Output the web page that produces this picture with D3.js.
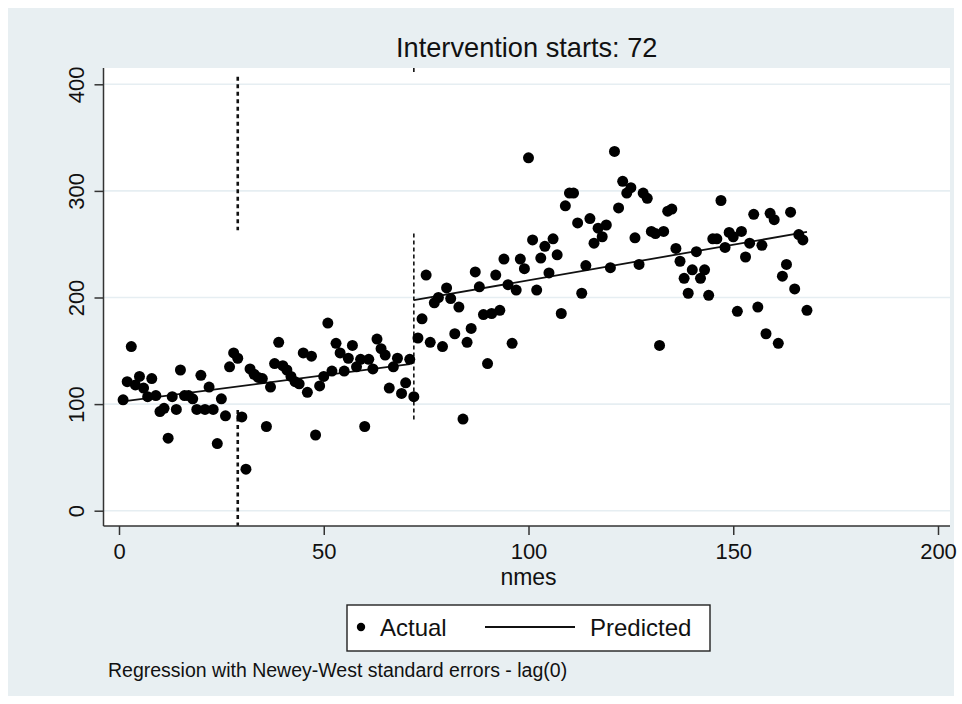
<!DOCTYPE html>
<html>
<head>
<meta charset="utf-8">
<script src="https://cdn.jsdelivr.net/npm/d3@7"></script>
<style>
  body { margin: 0; background: #ffffff; }
  text { font-family: "Liberation Sans", Arial, Helvetica, sans-serif; fill: #111; }
</style>
</head>
<body>
<svg id="chart" width="962" height="704"></svg>
<script>
// Monthly observed counts, nmes = 1 .. 168
const actual = [
  104,121,154,118,126,115,107,124,108,93,
  96,68,107,95,132,108,108,105,95,127,
  95,116,95,63,105,89,135,148,143,88,
  39,133,128,125,124,79,116,138,158,136,
  132,126,121,119,148,111,145,71,117,126,
  176,131,157,148,131,143,155,135,142,79,
  142,133,161,152,146,115,135,143,110,120,
  142,107,162,180,221,158,195,200,154,209,
  199,166,191,86,158,171,224,210,184,138,
  185,221,188,236,212,157,207,236,227,331,
  254,207,237,248,223,255,240,185,286,298,
  298,270,204,230,274,251,265,257,268,228,
  337,284,309,298,303,256,231,298,293,262,
  260,155,262,281,283,246,234,218,204,226,
  243,218,226,202,255,255,291,247,261,257,
  187,262,238,251,278,191,249,166,279,273,
  157,220,231,280,208,259,254,188
];
const nmes = d3.range(1, actual.length + 1);

// Fitted segments before and after the intervention (endpoints)
const predPreNmes  = [1, 71];
const predPreVals  = [102.5, 137.5];
const predPostNmes = [72, 168];
const predPostVals = [197.5, 261.5];

// Vertical reference lines (nmes position, visible [from, to] value spans)
const refLineX    = [29, 72];
const refLineSpans = [
  [[407, 263], [94.5, -15]],
  [[416, 411.5], [260, 85]]
];

const xTicks = [0, 50, 100, 150, 200];
const yTicks = [0, 100, 200, 300, 400];
const titleText = "Intervention starts: 72";
const xTitle = "nmes";
const legendLabels = ["Actual", "Predicted"];
const noteText = "Regression with Newey-West standard errors - lag(0)";

const svg = d3.select("#chart");
const W = 962, H = 704;
const plot = { left: 103.5, right: 950, top: 68, bottom: 526 };

const x = d3.scaleLinear().domain([0, 200]).range([119, 938]);
const y = d3.scaleLinear().domain([0, 400]).range([510.7, 84.3]);

// outer background
svg.append("rect").attr("x", 0).attr("y", 0).attr("width", W).attr("height", H).attr("fill", "#ffffff");
svg.append("rect").attr("x", 8).attr("y", 8).attr("width", W - 16).attr("height", H - 16).attr("fill", "#e8eff2");

// plot region
svg.append("rect")
  .attr("x", plot.left).attr("y", plot.top)
  .attr("width", plot.right - plot.left).attr("height", plot.bottom - plot.top)
  .attr("fill", "#ffffff");

// horizontal gridlines
svg.append("g").selectAll("line").data(yTicks).join("line")
  .attr("x1", plot.left).attr("x2", plot.right)
  .attr("y1", d => y(d)).attr("y2", d => y(d))
  .attr("stroke", "#e6eef2").attr("stroke-width", 1.6);

// reference lines
refLineX.forEach((xv, i) => {
  refLineSpans[i].forEach(span => {
    svg.append("line")
      .attr("x1", x(xv)).attr("x2", x(xv))
      .attr("y1", Math.max(plot.top, y(span[0])))
      .attr("y2", Math.min(plot.bottom, y(span[1])))
      .attr("stroke", "#111")
      .attr("stroke-width", i === 0 ? 2.6 : 1.6)
      .attr("stroke-dasharray", i === 0 ? "4,3.5" : "4,3");
  });
});

// fitted lines
const line = d3.line().x(d => x(d[0])).y(d => y(d[1]));
[[predPreNmes, predPreVals], [predPostNmes, predPostVals]].forEach(([n, v]) => {
  svg.append("path")
    .datum(n.map((d, i) => [d, v[i]]))
    .attr("d", line)
    .attr("fill", "none").attr("stroke", "#111").attr("stroke-width", 1.8);
});

// observed points
svg.append("g").selectAll("circle").data(nmes).join("circle")
  .attr("cx", d => x(d))
  .attr("cy", (d, i) => y(actual[i]))
  .attr("r", 5.5)
  .attr("fill", "#000");

// axes
const xAxis = d3.axisBottom(x).tickValues(xTicks).tickSize(9).tickPadding(8).tickFormat(d3.format("d"));
const gx = svg.append("g").attr("transform", `translate(0,${plot.bottom})`).call(xAxis);
gx.select(".domain").attr("d", `M${plot.left},0H${plot.right}`).attr("stroke", "#333").attr("stroke-width", 1.5);
gx.selectAll(".tick line").attr("stroke", "#333").attr("stroke-width", 1.5);
gx.selectAll(".tick text").attr("font-size", 22).attr("fill", "#111")
  .attr("font-family", "'Liberation Sans', Arial, sans-serif");

const yAxis = d3.axisLeft(y).tickValues(yTicks).tickSize(9).tickFormat(d3.format("d"));
const gy = svg.append("g").attr("transform", `translate(${plot.left},0)`).call(yAxis);
gy.select(".domain").attr("d", `M0,${plot.top}V${plot.bottom}`).attr("stroke", "#333").attr("stroke-width", 1.5);
gy.selectAll(".tick line").attr("stroke", "#333").attr("stroke-width", 1.5);
gy.selectAll(".tick text")
  .attr("font-size", 22).attr("fill", "#111")
  .attr("font-family", "'Liberation Sans', Arial, sans-serif")
  .attr("text-anchor", "middle")
  .attr("dy", 0).attr("x", 0).attr("y", 0)
  .attr("transform", "translate(-20,0) rotate(-90)");

// title
svg.append("text").attr("x", (plot.left + plot.right) / 2).attr("y", 57)
  .attr("text-anchor", "middle").attr("font-size", 27.2).text(titleText);

// x title
svg.append("text").attr("x", x(100)).attr("y", 585)
  .attr("text-anchor", "middle").attr("font-size", 23).text(xTitle);

// legend
const lg = svg.append("g");
lg.append("rect").attr("x", 347).attr("y", 605).attr("width", 363).attr("height", 46)
  .attr("fill", "#fff").attr("stroke", "#222").attr("stroke-width", 1.4);
lg.append("circle").attr("cx", 361).attr("cy", 627).attr("r", 4.2).attr("fill", "#000");
lg.append("text").attr("x", 380).attr("y", 636).attr("font-size", 24).text(legendLabels[0]);
lg.append("line").attr("x1", 485).attr("x2", 575).attr("y1", 627).attr("y2", 627)
  .attr("stroke", "#111").attr("stroke-width", 1.8);
lg.append("text").attr("x", 590).attr("y", 636).attr("font-size", 24).text(legendLabels[1]);

// note
svg.append("text").attr("x", 108).attr("y", 677).attr("font-size", 19.5).text(noteText);
</script>
</body>
</html>
